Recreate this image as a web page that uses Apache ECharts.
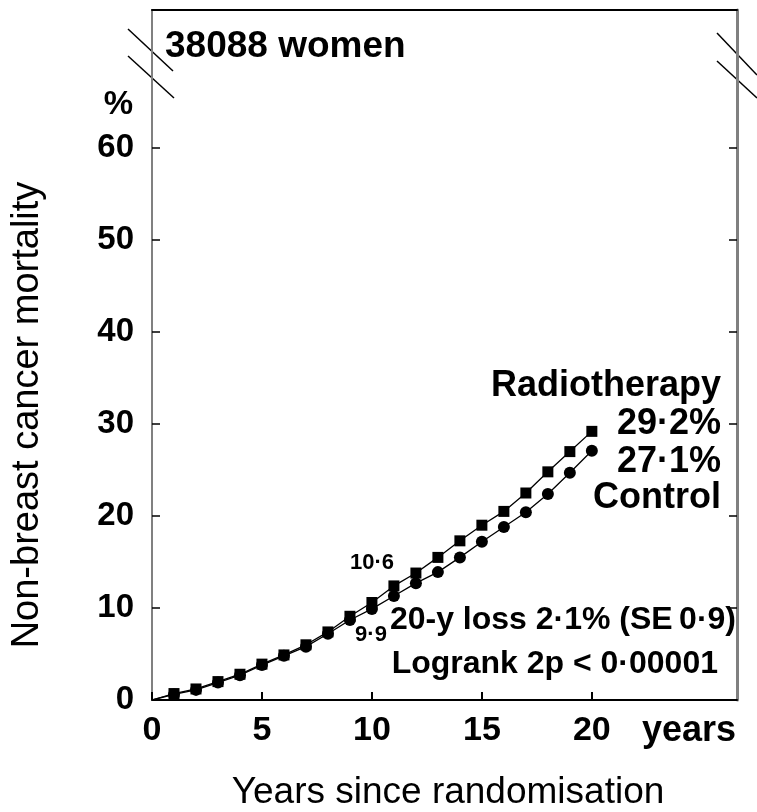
<!DOCTYPE html>
<html>
<head>
<meta charset="utf-8">
<script src="https://cdn.jsdelivr.net/npm/echarts@6/dist/echarts.min.js"></script>
<style>
  html, body { margin: 0; padding: 0; background: #fff; }
  #chart { width: 757px; height: 812px; }
</style>
</head>
<body>
<div id="chart"></div>
<script>
  // years since randomisation (0 = start, no marker)
  var years = [0, 1, 2, 3, 4, 5, 6, 7, 8, 9, 10, 11, 12, 13, 14, 15, 16, 17, 18, 19, 20];
  var radiotherapy = [0, 0.7, 1.2, 2.0, 2.8, 3.9, 4.9, 6.0, 7.4, 9.1, 10.6, 12.4, 13.8, 15.5, 17.3, 19.0, 20.5, 22.5, 24.8, 27.0, 29.2];
  var control = [0, 0.6, 1.1, 1.9, 2.7, 3.8, 4.8, 5.8, 7.2, 8.7, 9.9, 11.3, 12.7, 13.9, 15.5, 17.2, 18.8, 20.4, 22.4, 24.7, 27.1];
  var xTicks = [0, 5, 10, 15, 20];
  var yTicks = [0, 10, 20, 30, 40, 50, 60];

  var font = '"Liberation Sans", Arial, Helvetica, sans-serif';

  function toPoints(vals) {
    return vals.map(function (v, i) {
      if (i === 0) return { value: [years[i], v], symbol: 'none' };
      return [years[i], v];
    });
  }

  function label(text, x, y, size, align) {
    return {
      type: 'text', x: x, y: y,
      style: {
        text: text, fill: '#000', font: 'bold ' + size + 'px ' + font,
        textAlign: align || 'left', textVerticalAlign: 'middle'
      }
    };
  }

  function brk(x1, y1, x2, y2) {
    return {
      type: 'line',
      shape: { x1: x1, y1: y1, x2: x2, y2: y2 },
      style: { stroke: '#000', lineWidth: 1.5 }
    };
  }

  var chart = echarts.init(document.getElementById('chart'));

  chart.setOption({
    animation: false,
    backgroundColor: '#fff',
    grid: { left: 152, top: 10, right: 20, bottom: 112, containLabel: false, outerBoundsMode: 'none' },
    xAxis: [
      {
        type: 'value', min: 0, max: 26.6, position: 'bottom',
        axisLine: { show: true, onZero: false, lineStyle: { color: '#000', width: 2 } },
        axisTick: { show: true, inside: true, length: 8, customValues: xTicks, lineStyle: { color: '#000', width: 2 } },
        axisLabel: {
          customValues: xTicks, margin: 14, color: '#000',
          fontFamily: font, fontWeight: 'bold', fontSize: 34
        },
        splitLine: { show: false }
      },
      {
        type: 'value', min: 0, max: 26.6, position: 'top',
        axisLine: { show: true, onZero: false, lineStyle: { color: '#000', width: 2 } },
        axisTick: { show: false }, axisLabel: { show: false }, splitLine: { show: false }
      }
    ],
    yAxis: [
      {
        type: 'value', min: 0, max: 75, position: 'left',
        axisLine: { show: true, onZero: false, lineStyle: { color: '#808080', width: 2 } },
        axisTick: { show: true, inside: true, length: 8, customValues: yTicks, lineStyle: { color: '#000', width: 1.5 } },
        axisLabel: {
          customValues: yTicks, margin: 18, color: '#000',
          fontFamily: font, fontWeight: 'bold', fontSize: 33
        },
        splitLine: { show: false }
      },
      {
        type: 'value', min: 0, max: 75, position: 'right',
        axisLine: { show: true, onZero: false, lineStyle: { color: '#808080', width: 3 } },
        axisTick: { show: true, inside: true, length: 8, customValues: yTicks, lineStyle: { color: '#000', width: 1.5 } },
        axisLabel: { show: false }, splitLine: { show: false }
      }
    ],
    series: [
      {
        name: 'Radiotherapy', type: 'line', xAxisIndex: 0, yAxisIndex: 0,
        data: toPoints(radiotherapy),
        symbol: 'rect', symbolSize: 11, showAllSymbol: true,
        itemStyle: { color: '#000' },
        lineStyle: { color: '#000', width: 1.3 }
      },
      {
        name: 'Control', type: 'line', xAxisIndex: 0, yAxisIndex: 0,
        data: toPoints(control),
        symbol: 'circle', symbolSize: 12, showAllSymbol: true,
        itemStyle: { color: '#000' },
        lineStyle: { color: '#000', width: 1.3 }
      }
    ],
    graphic: [
      brk(128, 29, 173, 71),
      brk(128, 56, 174, 98),
      brk(717, 33, 757, 75),
      brk(717, 61, 757, 98),
      label('38088 women', 165, 47, 37),
      label('%', 133, 105, 33, 'right'),
      label('years', 736, 731, 36, 'right'),
      label('Radiotherapy', 721, 386, 36, 'right'),
      label('29\u00b72%', 721, 424, 36, 'right'),
      label('27\u00b71%', 721, 462, 36, 'right'),
      label('Control', 721, 498, 36, 'right'),
      label('10\u00b76', 372, 563, 22, 'center'),
      label('9\u00b79', 371, 635, 22, 'center'),
      label('20-y loss 2\u00b71% (SE\u20090\u00b79)', 736, 620, 32, 'right'),
      label('Logrank 2p < 0\u00b700001', 718, 664, 32, 'right'),
      {
        type: 'text', x: 448, y: 793,
        style: {
          text: 'Years since randomisation', fill: '#000', font: '37px ' + font,
          textAlign: 'center', textVerticalAlign: 'middle'
        }
      },
      {
        type: 'text', x: 28, y: 415, rotation: Math.PI / 2,
        style: {
          text: 'Non-breast cancer mortality', fill: '#000', font: '38px ' + font,
          textAlign: 'center', textVerticalAlign: 'middle'
        }
      }
    ]
  });
</script>
</body>
</html>
